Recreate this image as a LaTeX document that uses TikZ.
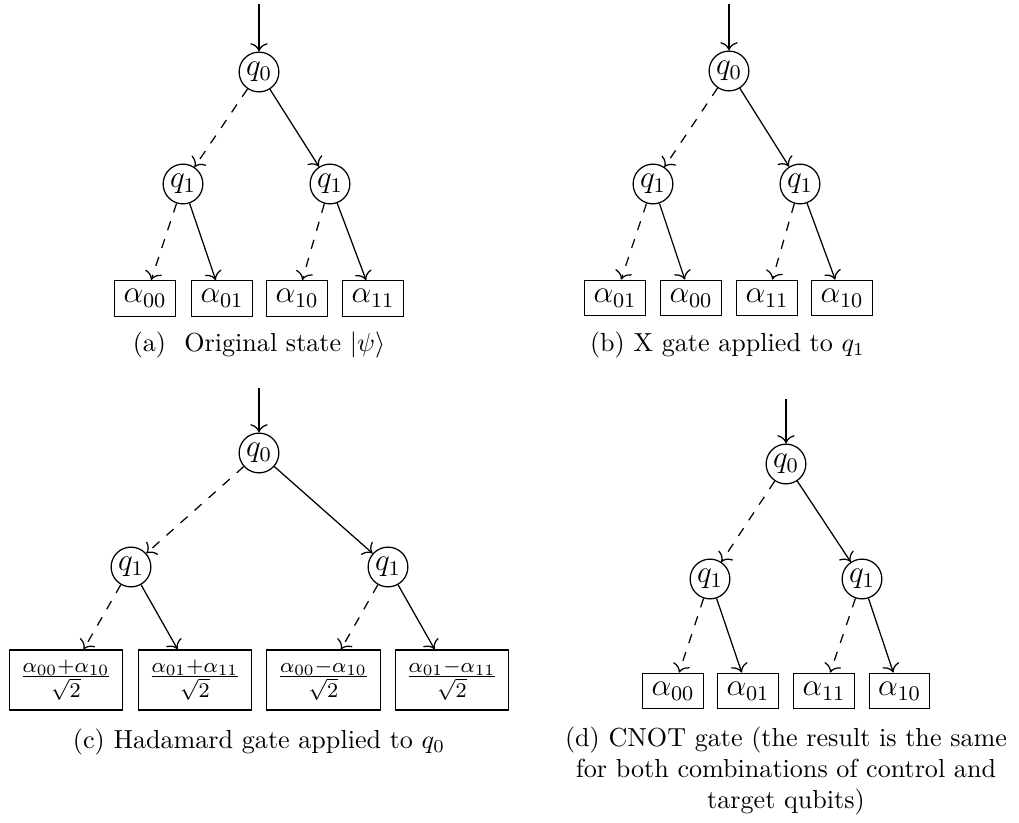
\documentclass[tikz,border=0pt]{standalone}
\usepackage{tikz}
\usetikzlibrary{arrows.meta,positioning}

\begin{document}
\begin{tikzpicture}[
    x=0.3832pt, y=-0.3832pt, line width=0.48pt,
    qnode/.style={draw, circle, inner sep=1pt, font=\large},
    leaf/.style={draw, rectangle, font=\large},
    hileaf/.style={draw, rectangle, font=\large, minimum width=43.5pt, minimum height=23pt},
    one/.style={-{To[scale=1.2]}},
    zero/.style={-{To[scale=1.2]}, dash pattern=on 3.6pt off 3.6pt},
    captext/.style={align=center}
]
\useasboundingbox (0,0) rectangle (1019,823);

% (a) original state
\coordinate (ina) at (259,4);
\node[qnode] (qa0) at (259,72) {$q_0$};
\node[qnode] (qa1l) at (183,184) {$q_1$};
\node[qnode] (qa1r) at (330,184) {$q_1$};
\node[leaf] (la1) at (145,298.5) {$\alpha_{00}$};
\node[leaf] (la2) at (222,298.5) {$\alpha_{01}$};
\node[leaf] (la3) at (297,298.5) {$\alpha_{10}$};
\node[leaf] (la4) at (373,298.5) {$\alpha_{11}$};
\node[captext] (capa) at (259,345) {(a)\hspace{7pt}Original state $|\psi\rangle$};

\draw[one] (ina) -- (qa0);
\draw[zero] (qa0) -- (qa1l);
\draw[one] (qa0) -- (qa1r);
\draw[zero] (qa1l) -- (la1);
\draw[one] (qa1l) -- (la2);
\draw[zero] (qa1r) -- (la3);
\draw[one] (qa1r) -- (la4);

% (b) X gate
\coordinate (inb) at (729,4);
\node[qnode] (qb0) at (729,71) {$q_0$};
\node[qnode] (qb1l) at (653,184) {$q_1$};
\node[qnode] (qb1r) at (800,184) {$q_1$};
\node[leaf] (lb1) at (615,298) {$\alpha_{01}$};
\node[leaf] (lb2) at (691,298) {$\alpha_{00}$};
\node[leaf] (lb3) at (767,298) {$\alpha_{11}$};
\node[leaf] (lb4) at (842,298) {$\alpha_{10}$};
\node[captext] (capb) at (727.5,345) {(b) X gate applied to $q_1$};

\draw[one] (inb) -- (qb0);
\draw[zero] (qb0) -- (qb1l);
\draw[one] (qb0) -- (qb1r);
\draw[zero] (qb1l) -- (lb1);
\draw[one] (qb1l) -- (lb2);
\draw[zero] (qb1r) -- (lb3);
\draw[one] (qb1r) -- (lb4);

% (c) Hadamard gate
\coordinate (inc) at (259,388);
\node[qnode] (qc0) at (259,453) {$q_0$};
\node[qnode] (qc1l) at (131,567) {$q_1$};
\node[qnode] (qc1r) at (388,567) {$q_1$};
\node[hileaf] (lc1) at (66,680) {$\frac{\alpha_{00}+\alpha_{10}}{\sqrt{2}}$};
\node[hileaf] (lc2) at (195,680) {$\frac{\alpha_{01}+\alpha_{11}}{\sqrt{2}}$};
\node[hileaf] (lc3) at (323.5,680) {$\frac{\alpha_{00}-\alpha_{10}}{\sqrt{2}}$};
\node[hileaf] (lc4) at (452,680) {$\frac{\alpha_{01}-\alpha_{11}}{\sqrt{2}}$};
\node[captext] (capc) at (259,742) {(c) Hadamard gate applied to $q_0$};

\draw[one] (inc) -- (qc0);
\draw[zero] (qc0) -- (qc1l);
\draw[one] (qc0) -- (qc1r);
\draw[zero] (qc1l) -- (lc1);
\draw[one] (qc1l) -- (lc2);
\draw[zero] (qc1r) -- (lc3);
\draw[one] (qc1r) -- (lc4);

% (d) CNOT gate
\coordinate (ind) at (786,399);
\node[qnode] (qd0) at (786,464) {$q_0$};
\node[qnode] (qd1l) at (710,579) {$q_1$};
\node[qnode] (qd1r) at (862,579) {$q_1$};
\node[leaf] (ld1) at (673,691) {$\alpha_{00}$};
\node[leaf] (ld2) at (748,691) {$\alpha_{01}$};
\node[leaf] (ld3) at (824,691) {$\alpha_{11}$};
\node[leaf] (ld4) at (899.5,691) {$\alpha_{10}$};
\node[captext] (capd) at (786,771) {(d) CNOT gate (the result is the same\\for both combinations of control and\\target qubits)};

\draw[one] (ind) -- (qd0);
\draw[zero] (qd0) -- (qd1l);
\draw[one] (qd0) -- (qd1r);
\draw[zero] (qd1l) -- (ld1);
\draw[one] (qd1l) -- (ld2);
\draw[zero] (qd1r) -- (ld3);
\draw[one] (qd1r) -- (ld4);

\end{tikzpicture}
\end{document}
